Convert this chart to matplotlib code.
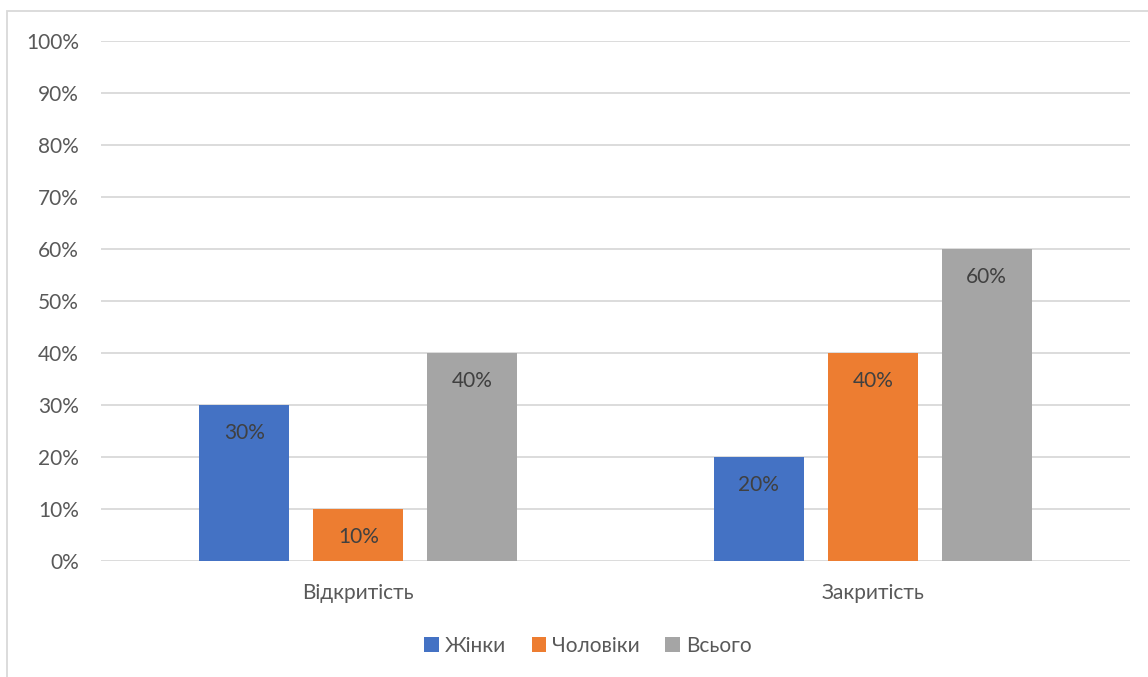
import matplotlib
matplotlib.use('Agg')
import matplotlib.pyplot as plt
import numpy as np
from matplotlib.patches import Rectangle
from matplotlib.ticker import FuncFormatter, MultipleLocator

categories = ['Відкритість', 'Закритість']
series_names = ['Жінки', 'Чоловіки', 'Всього']
women = [30, 20]
men = [10, 40]
total = [40, 60]
colors = ['#4472C4', '#ED7D31', '#A5A5A5']

plt.rcParams['font.family'] = ['Lato', 'DejaVu Sans']
FS = 15

fig = plt.figure(figsize=(11.48, 6.77), dpi=100)

# outer chart border (left/top visible, rest cut off)
fig.patches.append(Rectangle((7 / 1148, -0.1), 1.2, 1 - 11 / 677 + 0.1,
                             transform=fig.transFigure, fill=False,
                             edgecolor='#D9D9D9', linewidth=1.3))

ax = fig.add_axes([101 / 1148, 116 / 677, 1029 / 1148, 520 / 677])

x = np.arange(len(categories))
width = 0.175
step = 0.2216
for i, (name, vals) in enumerate(zip(series_names, [women, men, total])):
    pos = x + (i - 1) * step
    bars = ax.bar(pos, vals, width, color=colors[i], label=name, zorder=3)
    for b, v in zip(bars, vals):
        ax.text(b.get_x() + b.get_width() / 2, v - 5.3, f'{v}%',
                ha='center', va='center', fontsize=FS, color='#404040', zorder=4)

ax.set_xlim(-0.5, 1.5)
ax.set_ylim(0, 100)
ax.yaxis.set_major_locator(MultipleLocator(10))
ax.yaxis.set_major_formatter(FuncFormatter(lambda v, _: f'{v:.0f}%'))
ax.grid(axis='y', color='#D9D9D9', linewidth=1.3, zorder=0)
for s in ax.spines.values():
    s.set_visible(False)
ax.tick_params(axis='y', length=0, pad=16, labelsize=FS, labelcolor='#595959')
ax.set_xticks(x)
ax.set_xticklabels(categories)
ax.tick_params(axis='x', length=0, pad=16, labelsize=FS, labelcolor='#595959')

ax.legend(loc='center', bbox_to_anchor=(588 / 1148, 1 - 646 / 677),
          bbox_transform=fig.transFigure, ncol=3, frameon=False,
          fontsize=FS, labelcolor='#595959', handlelength=0.7,
          handleheight=0.7, handletextpad=0.3, columnspacing=1.2)

fig.savefig('out.png', dpi=100)
